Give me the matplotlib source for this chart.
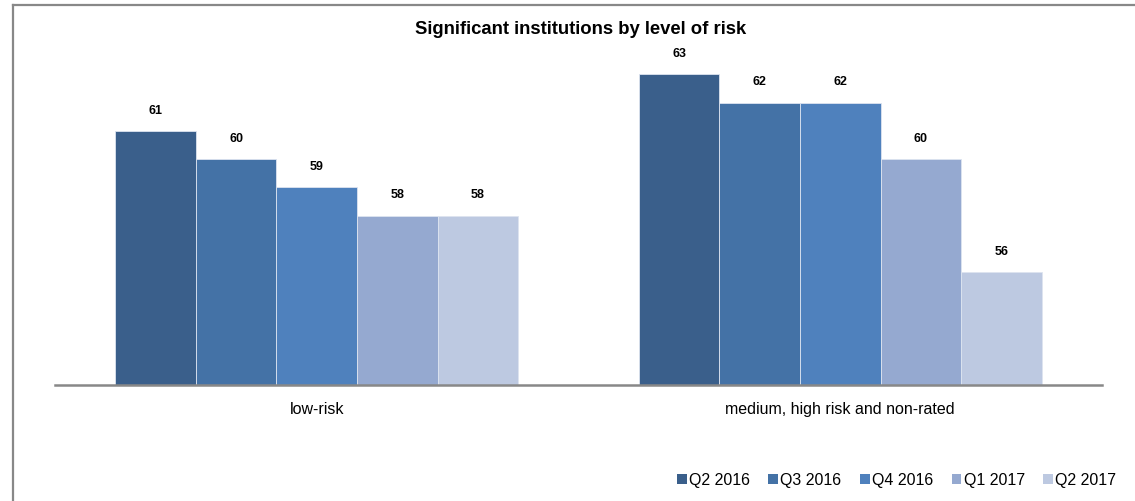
import matplotlib
matplotlib.use("Agg")
import matplotlib.pyplot as plt
import numpy as np
from matplotlib.lines import Line2D
from matplotlib.patches import Patch

plt.rcParams['font.family'] = ['Liberation Sans', 'DejaVu Sans']

categories = ["low-risk", "medium, high risk and non-rated"]
series_names = ["Q2 2016", "Q3 2016", "Q4 2016", "Q1 2017", "Q2 2017"]
values = {
    "Q2 2016": [61, 63],
    "Q3 2016": [60, 62],
    "Q4 2016": [59, 62],
    "Q1 2017": [58, 60],
    "Q2 2017": [58, 56],
}
colors = ["#3A5F8B", "#4472A6", "#4F81BD", "#95A9D0", "#BDC9E1"]

W, H = 1135, 501
fig = plt.figure(figsize=(W / 100, H / 100), dpi=100)
ax = fig.add_axes([55 / W, 1 - 385 / H, (1102 - 55) / W, (385 - 46) / H])

x = np.arange(len(categories))
bw = 0.154
n = len(series_names)
for i, (name, c) in enumerate(zip(series_names, colors)):
    off = (i - (n - 1) / 2) * bw
    bars = ax.bar(x + off, values[name], width=bw, color=c, edgecolor="#DDE4F0",
                  linewidth=0.6, bottom=0, label=name, zorder=2)
    for xi, v in zip(x + off, values[name]):
        ax.annotate(f"{v}", (xi, v), xytext=(0, 14.5), textcoords="offset points",
                    ha="center", va="center", fontsize=9, fontweight="bold", color="black")

ax.set_ylim(52, 64)
ax.set_xlim(-0.5, 1.5)
ax.set_yticks([])
ax.set_xticks(x)
ax.set_xticklabels(categories, fontsize=11.5)
ax.tick_params(axis="x", length=0, pad=12)
for s in ["top", "right", "left"]:
    ax.spines[s].set_visible(False)
ax.spines["bottom"].set_color("#888888")
ax.spines["bottom"].set_linewidth(1.8)

fig.text(581 / W, 1 - 30 / H, "Significant institutions by level of risk",
         ha="center", va="center", fontsize=13.3, fontweight="bold")

handles = [Patch(facecolor=c, edgecolor="none") for c in colors]
fig.legend(handles, series_names, loc="center right", bbox_to_anchor=(1116 / W, 1 - 480 / H),
           ncol=5, frameon=False, fontsize=11.5, handlelength=0.6, handleheight=0.6,
           handletextpad=0.15, columnspacing=1.15, borderpad=0, borderaxespad=0)

fig.add_artist(Line2D([13 / W, 1], [1 - 5 / H, 1 - 5 / H], color="#888888", lw=1.6,
                      transform=fig.transFigure))
fig.add_artist(Line2D([13 / W, 13 / W], [1 - 5 / H, 0], color="#888888", lw=1.6,
                      transform=fig.transFigure))

fig.savefig("out.png", dpi=100)
